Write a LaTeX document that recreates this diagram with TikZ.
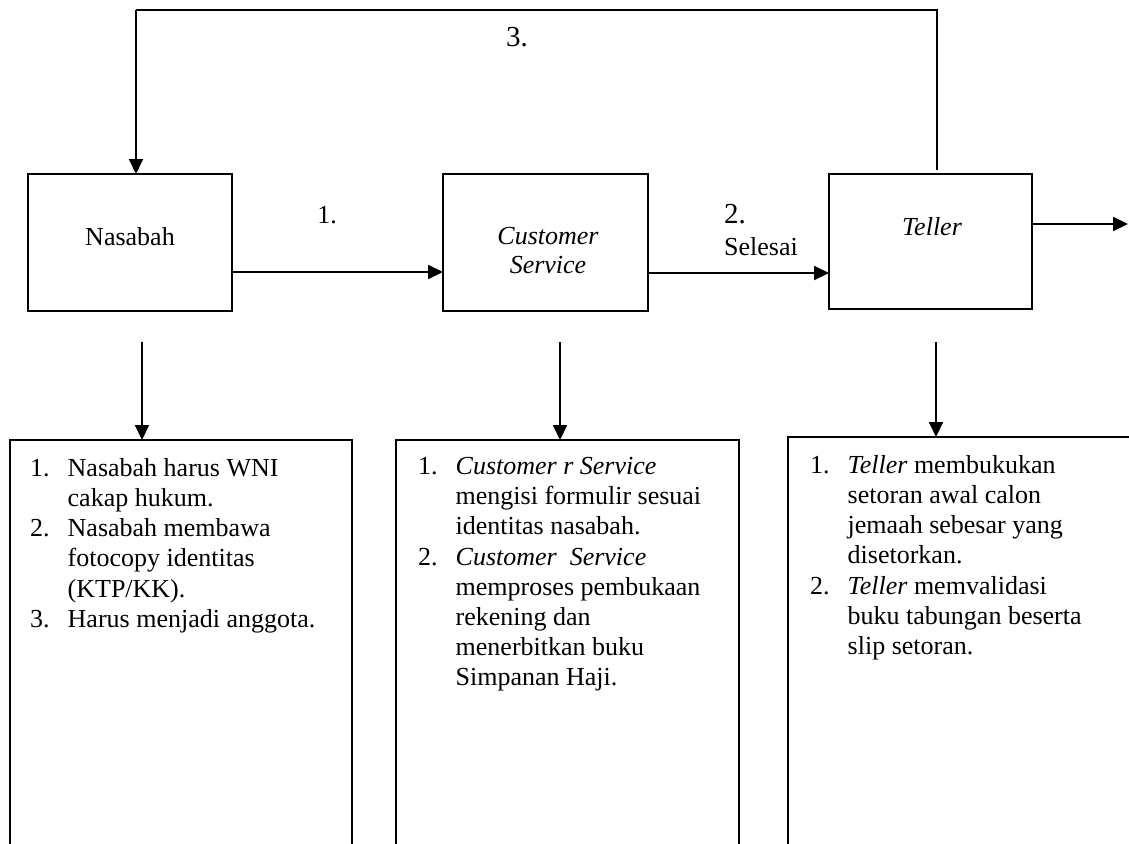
\documentclass[tikz,border=0pt]{standalone}
\usepackage{fontspec}
\setmainfont{Liberation Serif}
\usetikzlibrary{arrows.meta}
\newcommand{\itm}[1]{\makebox[37.5pt][l]{#1}}
\newcommand{\ind}{\hspace*{37.5pt}}
\begin{document}
\begin{tikzpicture}[x=1pt,y=-1pt,
  box/.style={draw,line width=2pt,inner sep=0pt,outer sep=0pt},
  arr/.style={line width=2pt,-{Triangle[length=15pt,width=14pt]}},
  ln/.style={line width=1.6pt},
  lbl/.style={font=\fontsize{26}{29}\selectfont,inner sep=0pt},
  big/.style={font=\fontsize{29}{32}\selectfont,inner sep=0pt},
  lst/.style={font=\fontsize{26}{30.2}\selectfont,inner sep=0pt,align=left,anchor=north west}]
\useasboundingbox (0,0) rectangle (1129,843);
\clip (0,0) rectangle (1129,843);
% main boxes
\node[box,minimum width=204pt,minimum height=137pt] (nas) at (130,242.5) {};
\node[box,minimum width=205pt,minimum height=137pt] (cs) at (545.5,242.5) {};
\node[box,minimum width=203pt,minimum height=135pt] (tel) at (930.5,241.5) {};
% texts in boxes
\node[lbl,anchor=base] (tnas) at (130,245) {Nasabah};
\node[lbl,anchor=base] (tcs1) at (548,244) {\itshape Customer};
\node[lbl,anchor=base] (tcs2) at (548,273) {\itshape Service};
\node[lbl,anchor=base] (ttel) at (932,235) {\itshape Teller};
% list boxes
\node[box,minimum width=342pt,minimum height=460pt] (l1) at (181,670) {};
\node[box,minimum width=343pt,minimum height=460pt] (l2) at (567.5,670) {};
\node[box,minimum width=362pt,minimum height=463pt] (l3) at (969,668.5) {};
% connectors
\draw[arr] ([yshift=-29.5pt]nas.east) -- ([yshift=-29.5pt]cs.west);
\draw[arr] ([yshift=-30.5pt]cs.east) -- ([yshift=-31.5pt]tel.west);
\coordinate (out) at (1128,224);
\draw[arr] (tel.east |- out) -- (out);
\coordinate (tr) at (937,10);
\coordinate (tl) at (136,10);
\draw[ln] ([xshift=6.5pt,yshift=4pt]tel.north) -- (tr) -- (tl);
\draw[arr] (tl) -- (tl |- nas.north);
\coordinate (d1) at (142,342);
\coordinate (d2) at (560,342);
\coordinate (d3) at (936,342);
\draw[arr] (d1) -- (d1 |- l1.north);
\draw[arr] (d2) -- (d2 |- l2.north);
\draw[arr] (d3) -- (d3 |- l3.north);
% connector labels
\node[lbl,anchor=base] (n1) at (327,223) {1.};
\node[big,anchor=base west] (n2) at (724,223) {2.};
\node[lbl,anchor=base west] (sel) at (724,255) {Selesai};
\node[big,anchor=base] (n3) at (517,47) {3.};
% list texts
\node[lst] (t1) at (30,458) {\itm{1.}Nasabah harus WNI\\
\ind cakap hukum.\\
\itm{2.}Nasabah membawa\\
\ind fotocopy identitas\\
\ind (KTP/KK).\\
\itm{3.}Harus menjadi anggota.};
\node[lst] (t2) at (418,457) {\itm{1.}\textit{Customer r Service}\\
\ind mengisi formulir sesuai\\
\ind identitas nasabah.\\
\itm{2.}\textit{Customer\ \ Service}\\
\ind memproses pembukaan\\
\ind rekening dan\\
\ind menerbitkan buku\\
\ind Simpanan Haji.};
\node[lst] (t3) at (810,455) {\itm{1.}\textit{Teller} membukukan\\
\ind setoran awal calon\\
\ind jemaah sebesar yang\\
\ind disetorkan.\\
\itm{2.}\textit{Teller} memvalidasi\\
\ind buku tabungan beserta\\
\ind slip setoran.};
\end{tikzpicture}
\end{document}
